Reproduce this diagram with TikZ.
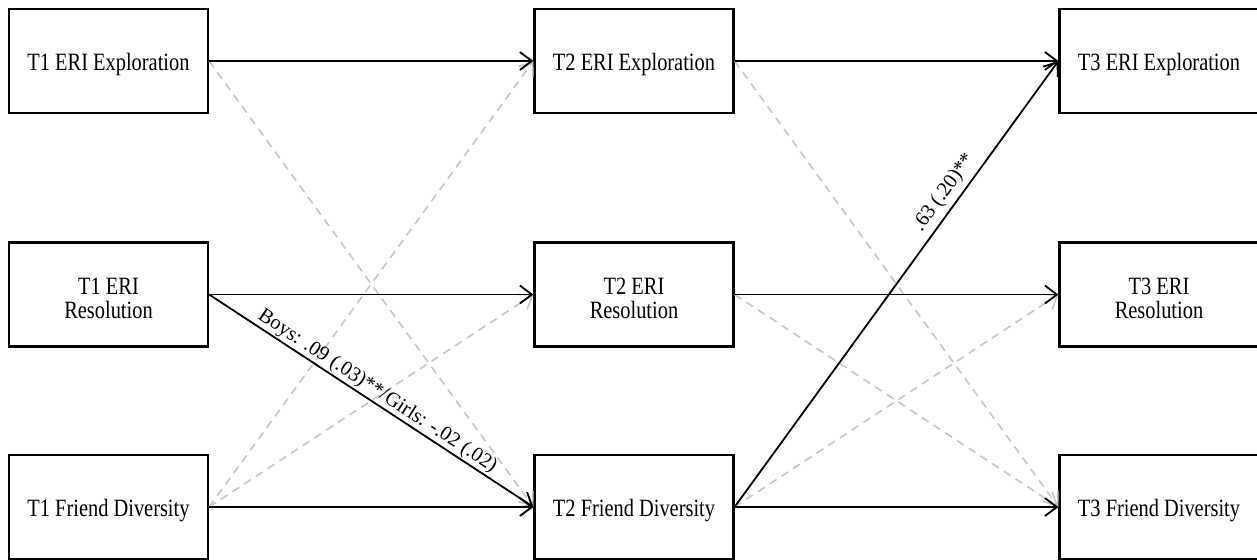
\documentclass[tikz,border=0pt]{standalone}
\usepackage{fontspec}
\usepackage{graphicx}
\setmainfont{Liberation Serif}
\usetikzlibrary{arrows.meta}
\newcommand{\stretchtxt}[2][4pt]{\raisebox{-#1}[\height][\depth]{\scalebox{1}[1.22]{\fontsize{20.4}{19}\selectfont\begin{tabular}{@{}c@{}}#2\end{tabular}}}}
\begin{document}
\begin{tikzpicture}[x=1pt,y=-1pt,
  box/.style={draw=black, line width=2.2pt, fill=white, minimum width=199pt, minimum height=104pt,
    inner sep=0pt, align=center},
  solidarr/.style={draw=black, line width=1.8pt, -{Straight Barb[length=12pt,width=18pt,line width=1.8pt]}},
  dasharr/.style={draw=black!22, line width=1.6pt, dash pattern=on 8pt off 6pt,
    -{Straight Barb[length=12pt,width=18pt,line width=1.6pt]}},
  lbl/.style={font=\fontsize{20.5}{22}\selectfont, sloped, inner sep=1pt}]
\useasboundingbox (0,0) rectangle (1257,559);
% nodes
\node[box] (a1) at (108.5,61) {\stretchtxt{T1 ERI Exploration}};
\node[box] (b1) at (108.5,294.5) {\stretchtxt[7pt]{T1 ERI\\Resolution}};
\node[box] (c1) at (108.5,507) {\stretchtxt{T1 Friend Diversity}};
\node[box] (a2) at (634,61) {\stretchtxt{T2 ERI Exploration}};
\node[box] (b2) at (634,294.5) {\stretchtxt[7pt]{T2 ERI\\Resolution}};
\node[box] (c2) at (634,507) {\stretchtxt{T2 Friend Diversity}};
\node[box] (a3) at (1159,61) {\stretchtxt{T3 ERI Exploration}};
\node[box] (b3) at (1159,294.5) {\stretchtxt[7pt]{T3 ERI\\Resolution}};
\node[box] (c3) at (1159,507) {\stretchtxt{T3 Friend Diversity}};
% dashed paths
\draw[dasharr] (a1.east) -- (c2.west);
\draw[dasharr] (c1.east) -- (a2.west);
\draw[dasharr] (c1.east) -- (b2.west);
\draw[dasharr] (a2.east) -- (c3.west);
\draw[dasharr] (b2.east) -- (c3.west);
\draw[dasharr] (c2.east) -- (b3.west);
% solid paths
\draw[solidarr] (a1.east) -- (a2.west);
\draw[solidarr] (b1.east) -- (b2.west);
\draw[solidarr] (c1.east) -- (c2.west);
\draw[solidarr] (b1.east) -- node[lbl, above] {Boys: .09 (.03)**/Girls: -.02 (.02)} (c2.west);
\draw[solidarr] (a2.east) -- (a3.west);
\draw[solidarr] (b2.east) -- (b3.west);
\draw[solidarr] (c2.east) -- (c3.west);
\draw[solidarr] (c2.east) -- node[lbl, above=4pt, pos=0.685] {.63 (.20)**} (a3.west);
\end{tikzpicture}
\end{document}
